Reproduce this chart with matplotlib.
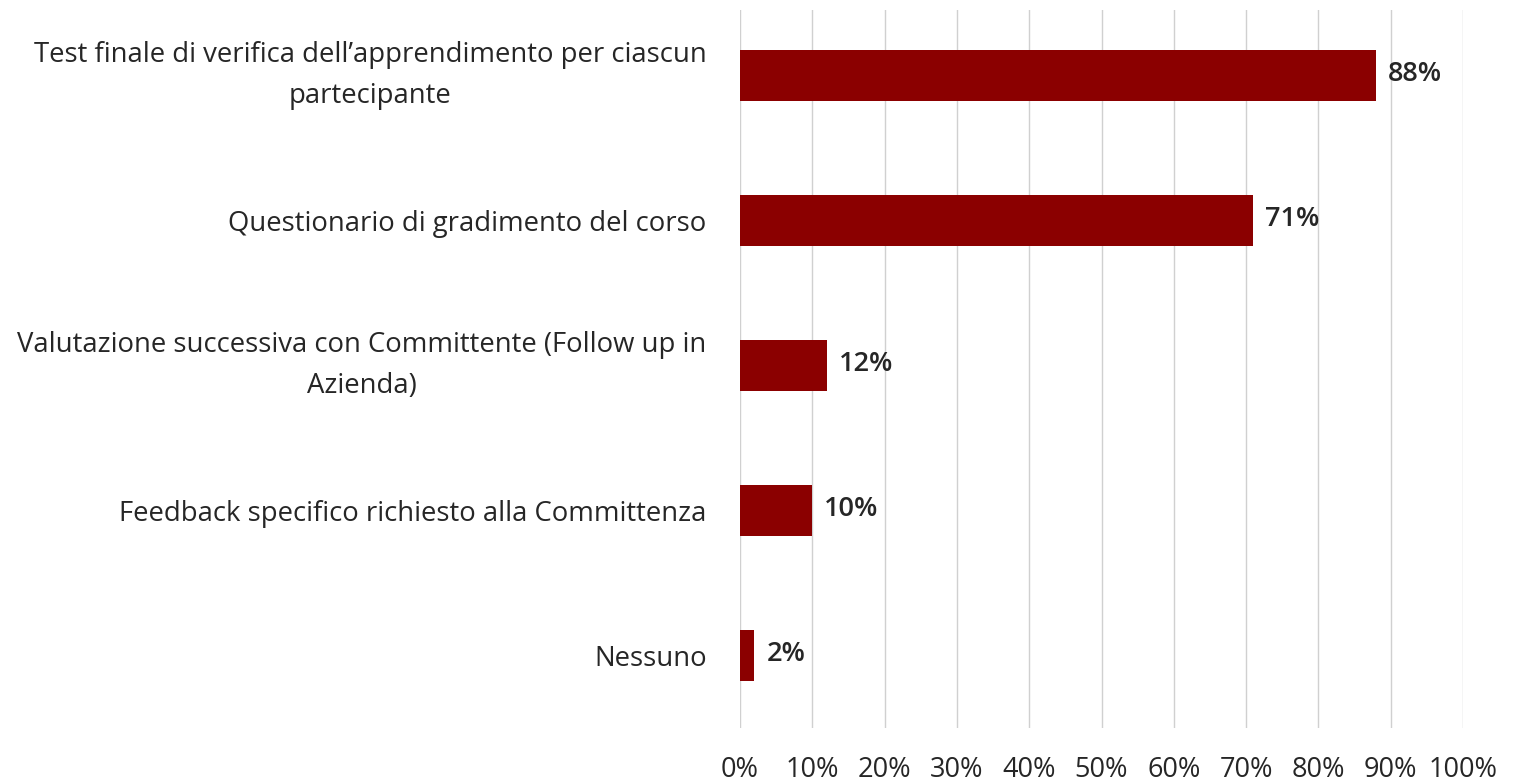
import matplotlib
matplotlib.use("Agg")
import matplotlib.pyplot as plt

categories = [
    "Test finale di verifica dell\u2019apprendimento per ciascun\npartecipante",
    "Questionario di gradimento del corso",
    "Valutazione successiva con Committente (Follow up in\nAzienda)",
    "Feedback specifico richiesto alla Committenza",
    "Nessuno",
]
values = [88, 71, 12, 10, 2]
xticks = [0, 10, 20, 30, 40, 50, 60, 70, 80, 90, 100]
xtick_labels = [f"{t}%" for t in xticks]

plt.rcParams['font.family'] = ['Open Sans', 'DejaVu Sans']

W, H = 1515, 781
fig = plt.figure(figsize=(W / 100, H / 100), dpi=100)
ax = fig.add_axes([740 / W, 1 - 728 / H, (1463 - 740) / W, (728 - 10) / H])

ypos = list(range(len(categories)))
ax.barh(ypos, values, height=0.35, color="#8B0000", zorder=3)
for y, v in zip(ypos, values):
    ax.annotate(f"{v}%", xy=(v, y), xytext=(8.5, 1), textcoords="offset points",
                ha="left", va="center", fontsize=19.5, fontweight="semibold", color="#262626")

ax.set_xlim(0, 100)
ax.set_ylim(len(categories) - 0.5, -0.45)
ax.set_xticks(xticks)
ax.set_xticklabels(xtick_labels, fontsize=19.5, color="#262626")
ax.set_yticks(ypos)
ax.set_yticklabels(categories, fontsize=19.8, color="#262626", multialignment="center",
                   linespacing=1.6)
for lbl in ax.get_yticklabels():
    if "\n" in lbl.get_text():
        lbl.set_verticalalignment("center")
ax.tick_params(axis="both", length=0)
ax.tick_params(axis="x", pad=20)
ax.tick_params(axis="y", pad=24)
ax.grid(axis="x", color="#d0d0d0", linewidth=1, zorder=0)
for s in ax.spines.values():
    s.set_visible(False)

fig.savefig("out.png", dpi=100, facecolor="white")
